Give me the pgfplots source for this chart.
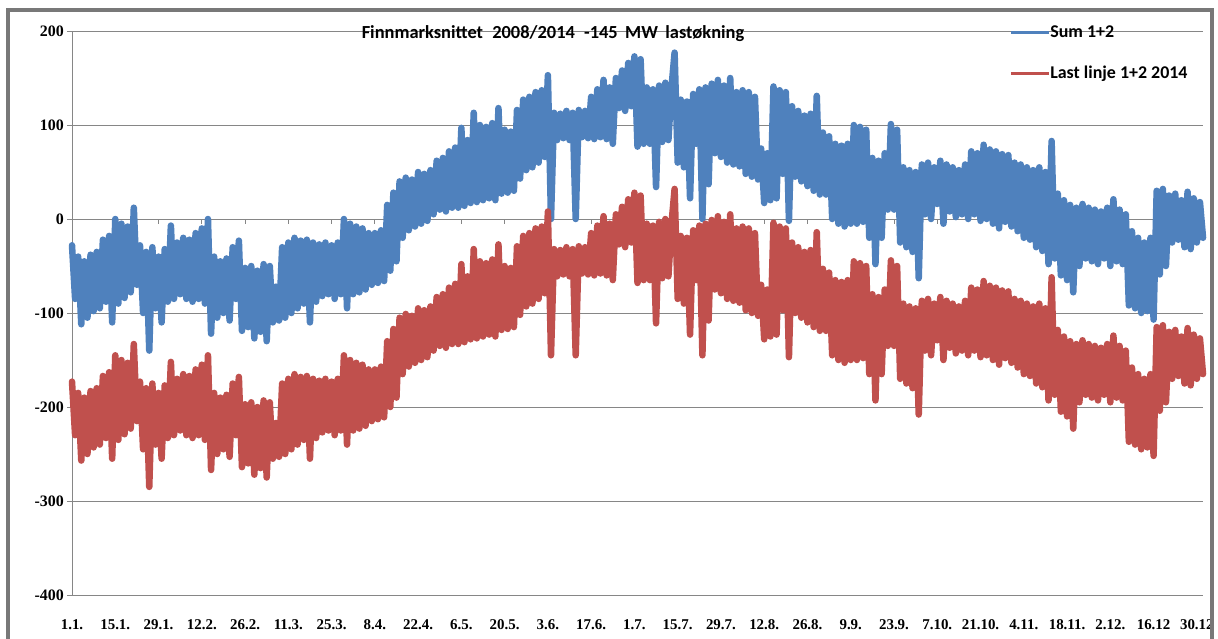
\documentclass[border=0pt]{standalone}
\usepackage{fontspec}
\setmainfont{Liberation Serif}
\newfontfamily\calibri{Carlito}
\usepackage{pgfplots}
\usepackage{pgfplotstable}
\pgfplotsset{compat=1.18}
\definecolor{xlblue}{RGB}{79,129,189}
\definecolor{xlred}{RGB}{192,80,77}
\definecolor{gridgray}{RGB}{134,134,134}
\definecolor{framegray}{RGB}{120,120,120}

\pgfplotstableread{
d b r
0 -28 -173
1 -85 -230
2 -40 -185
3 -112 -257
4 -45 -190
5 -105 -250
6 -38 -183
7 -98 -243
8 -35 -180
9 -95 -240
10 -22 -167
11 -88 -233
12 -18 -163
13 -110 -255
14 0 -145
15 -90 -235
16 -5 -150
17 -84 -229
18 -8 -153
19 -78 -223
20 12 -133
21 -70 -215
22 -28 -173
23 -100 -245
24 -35 -180
25 -140 -285
26 -30 -175
27 -95 -240
28 -40 -185
29 -110 -255
30 -32 -177
31 -88 -233
32 -7 -152
33 -85 -230
34 -25 -170
35 -80 -225
36 -20 -165
37 -85 -230
38 -22 -167
39 -88 -233
40 -15 -160
41 -85 -230
42 -10 -155
43 -90 -235
44 0 -145
45 -122 -267
46 -40 -185
47 -105 -250
48 -45 -190
49 -100 -245
50 -42 -187
51 -108 -253
52 -30 -175
53 -85 -230
54 -23 -168
55 -119 -264
56 -52 -197
57 -115 -260
58 -50 -195
59 -127 -272
60 -55 -200
61 -120 -265
62 -48 -193
63 -130 -275
64 -50 -195
65 -110 -255
66 -72 -217
67 -108 -253
68 -30 -175
69 -105 -250
70 -25 -170
71 -100 -245
72 -20 -165
73 -95 -240
74 -23 -168
75 -90 -235
76 -22 -167
77 -110 -255
78 -25 -170
79 -88 -233
80 -27 -172
81 -82 -227
82 -25 -170
83 -80 -225
84 -28 -173
85 -85 -230
86 -25 -170
87 -80 -225
88 0 -145
89 -95 -240
90 -5 -150
91 -80 -225
92 -8 -153
93 -78 -223
94 -10 -155
95 -75 -220
96 -15 -160
97 -70 -215
98 -15 -160
99 -68 -213
100 -12 -157
101 -66 -211
102 15 -130
103 -55 -200
104 28 -117
105 -45 -190
106 40 -105
107 -20 -165
108 44 -101
109 -12 -157
110 42 -103
111 -8 -153
112 50 -95
113 -5 -150
114 48 -97
115 -2 -147
116 52 -93
117 5 -140
118 62 -83
119 10 -135
120 65 -80
121 8 -137
122 72 -73
123 12 -133
124 76 -69
125 12 -133
126 97 -48
127 14 -131
128 84 -61
129 17 -128
130 113 -32
131 18 -127
132 100 -45
133 20 -125
134 98 -47
135 22 -123
136 102 -43
137 20 -125
138 118 -27
139 27 -118
140 95 -50
141 28 -117
142 93 -52
143 30 -115
144 116 -29
145 43 -102
146 127 -18
147 52 -93
148 130 -15
149 55 -90
150 135 -10
151 60 -85
152 137 -8
153 66 -79
154 153 8
155 0 -145
156 113 -32
157 84 -61
158 112 -33
159 86 -59
160 115 -30
161 84 -61
162 113 -32
163 0 -145
164 116 -29
165 87 -58
166 115 -30
167 86 -59
168 130 -15
169 85 -60
170 138 -7
171 87 -58
172 148 3
173 85 -60
174 140 -5
175 80 -65
176 150 5
177 118 -27
178 158 13
179 115 -30
180 166 21
181 120 -25
182 173 28
183 77 -68
184 170 25
185 80 -65
186 140 -5
187 80 -65
188 138 -7
189 34 -111
190 142 -3
191 82 -63
192 145 0
193 84 -61
194 140 -5
195 177 32
196 60 -85
197 127 -18
198 55 -90
199 125 -20
200 22 -123
201 133 -12
202 80 -65
203 138 -7
204 0 -145
205 140 -5
206 37 -108
207 144 -1
208 70 -75
209 148 3
210 66 -79
211 142 -3
212 60 -85
213 150 5
214 58 -87
215 135 -10
216 56 -89
217 137 -8
218 48 -97
219 135 -10
220 45 -100
221 130 -15
222 42 -103
223 75 -70
224 17 -128
225 70 -75
226 20 -125
227 141 -4
228 22 -123
229 137 -8
230 48 -97
231 135 -10
232 -2 -147
233 120 -25
234 45 -100
235 115 -30
236 40 -105
237 110 -35
238 35 -110
239 112 -33
240 30 -115
241 131 -14
242 26 -119
243 92 -53
244 26 -119
245 88 -57
246 0 -145
247 80 -65
248 -5 -150
249 78 -67
250 -8 -153
251 80 -65
252 -5 -150
253 100 -45
254 -5 -150
255 98 -47
256 -3 -148
257 95 -50
258 -20 -165
259 65 -80
260 -48 -193
261 62 -83
262 -20 -165
263 70 -75
264 10 -135
265 101 -44
266 10 -135
267 95 -50
268 -25 -170
269 55 -90
270 -30 -175
271 52 -93
272 -35 -180
273 50 -95
274 -63 -208
275 58 -87
276 5 -140
277 60 -85
278 0 -145
279 55 -90
280 16 -129
281 62 -83
282 -5 -150
283 58 -87
284 8 -137
285 55 -90
286 2 -143
287 52 -93
288 5 -140
289 58 -87
290 0 -145
291 72 -73
292 5 -140
293 70 -75
294 -2 -147
295 79 -66
296 0 -145
297 74 -71
298 -5 -150
299 72 -73
300 -10 -155
301 69 -76
302 -3 -148
303 68 -77
304 -8 -153
305 60 -85
306 -13 -158
307 58 -87
308 -20 -165
309 55 -90
310 -22 -167
311 52 -93
312 -30 -175
313 55 -90
314 -34 -179
315 50 -95
316 -48 -193
317 83 -62
318 -42 -187
319 27 -118
320 -60 -205
321 20 -125
322 -65 -210
323 15 -130
324 -78 -223
325 12 -133
326 -50 -195
327 16 -129
328 -42 -187
329 12 -133
330 -45 -190
331 10 -135
332 -48 -193
333 8 -137
334 -42 -187
335 12 -133
336 -50 -195
337 21 -124
338 -45 -190
339 10 -135
340 -48 -193
341 5 -140
342 -92 -237
343 -13 -158
344 -95 -240
345 -20 -165
346 -100 -245
347 -25 -170
348 -98 -243
349 -20 -165
350 -107 -252
351 30 -115
352 -59 -204
353 32 -113
354 -50 -195
355 25 -120
356 -25 -170
357 27 -118
358 -22 -167
359 20 -125
360 -30 -175
361 29 -116
362 -32 -177
363 22 -123
364 -25 -170
365 18 -127
366 -20 -165
}\data

\begin{document}
\begin{tikzpicture}
\path[use as bounding box] (0,0) rectangle (1218bp,639bp);
\fill[white] (0,0) rectangle (1218bp,639bp);
\begin{axis}[
  at={(72bp,44bp)}, anchor=south west,
  scale only axis, width=1131bp, height=564bp,
  xmin=0, xmax=366, ymin=-400, ymax=200,
  clip=false,
  axis line style={draw=none},
  ymajorgrids,
  grid style={gridgray, line width=1bp},
  ytick={-400,-300,-200,-100,0,100,200},
  yticklabels={{-400},{-300},{-200},{-100},{0},{100},{200}},
  ytick pos=left, xtick pos=bottom,
  tick align=outside,
  major tick length=5bp,
  major y tick style={gridgray, line width=1bp},
  major x tick style={draw=none},
  yticklabel style={font=\fontsize{16}{16}\selectfont\bfseries, inner sep=0pt, xshift=-3bp},
  xtick={0,14,...,364},
  xticklabels={1.1.,15.1.,29.1.,12.2.,26.2.,11.3.,25.3.,8.4.,22.4.,6.5.,20.5.,3.6.,17.6.,1.7.,15.7.,29.7.,12.8.,26.8.,9.9.,23.9.,7.10.,21.10.,4.11.,18.11.,2.12.,16.12,30.12},
  xticklabel style={font=\fontsize{15}{15}\selectfont\bfseries, anchor=north, inner sep=0pt, yshift=-19bp},
  legend style={draw=none, fill=none, at={(0.8285,1.009)}, anchor=north west,
    font=\calibri\fontsize{18}{18}\selectfont\bfseries, row sep=27bp, inner sep=0pt,
    nodes={inner sep=0pt}},
  legend cell align=left,
  legend image code/.code={\draw[#1, line width=3bp, line cap=butt] (0bp,0bp) -- (38bp,0bp);},
]
\draw[gridgray, line width=1bp] (axis cs:0,-400) -- (axis cs:0,200);
\pgfplotsinvokeforeach{14,28,...,364}{\draw[gridgray, line width=1bp] (axis cs:#1,0) -- ++(0bp,-5bp);}
\addplot[xlblue, line width=6.5bp, line join=round, line cap=round, no markers] table[x=d, y=b] {\data};
\addlegendentry{Sum 1+2}
\addplot[xlred, line width=6.5bp, line join=round, line cap=round, no markers] table[x=d, y=r] {\data};
\addlegendentry{Last linje 1+2 2014}
\end{axis}
\node[font=\calibri\fontsize{18.5}{18.5}\selectfont\bfseries, anchor=base] at (553bp,600bp) {Finnmarksnittet\hspace{0.5em}2008/2014\hspace{0.5em}-145\hspace{0.4em}MW\hspace{0.4em}lastøkning};
\draw[framegray, line width=3.5bp] (8bp,-20bp) -- (8bp,629bp) -- (1212bp,629bp) -- (1212bp,-20bp);
\end{tikzpicture}
\end{document}
